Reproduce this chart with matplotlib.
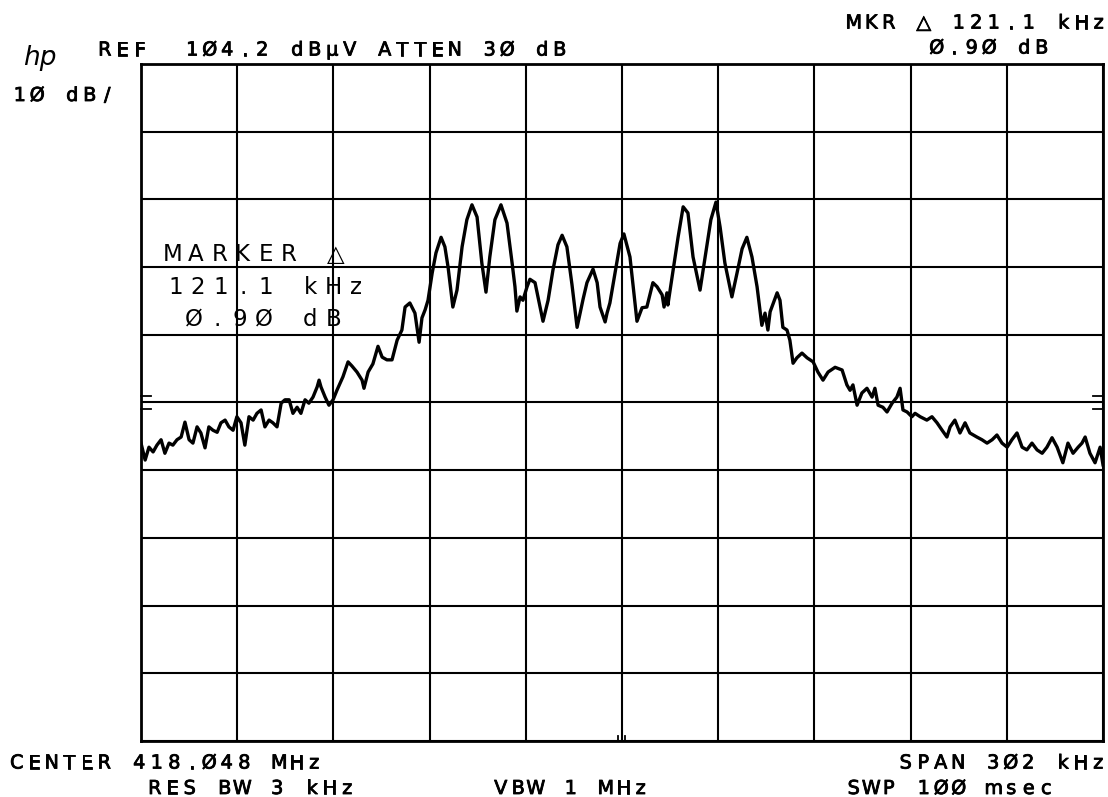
"""HP spectrum analyzer screen: two-tone / multi-carrier trace around 418.048 MHz"""
import numpy as np
import matplotlib
matplotlib.use("Agg")
import matplotlib.pyplot as plt
import matplotlib.patheffects as pe

W, H = 1108, 797

# analyzer settings
ref_level = 104.2      # dBuV, top graticule line
db_per_div = 10.0
span_khz = 302.0

# trace: offset from centre (kHz) and level (dBuV)
freq_khz = [
    -151.0, -149.7, -148.5, -147.2, -146.0, -144.7, -143.5, -142.2, -141.0, -139.7,
    -138.4, -137.2, -135.9, -134.7, -133.4, -132.2, -130.9, -129.7, -128.4, -127.1,
    -125.9, -124.6, -123.4, -122.1, -120.9, -119.6, -118.4, -117.1, -115.8, -114.6,
    -113.3, -112.1, -110.8, -109.6, -108.3, -107.0, -105.8, -104.5, -103.3, -102.0,
    -100.8, -99.5, -98.3, -97.0, -95.7, -95.1, -94.5, -93.2, -92.0, -90.7,
    -89.5, -87.6, -86.0, -84.8, -83.2, -81.6, -81.0, -79.7, -78.2, -76.6,
    -75.3, -73.8, -72.2, -70.6, -69.1, -68.1, -66.6, -65.0, -63.7, -62.8,
    -61.8, -60.9, -59.6, -58.4, -56.8, -55.6, -54.6, -53.1, -51.8, -50.2,
    -48.7, -47.1, -45.5, -44.0, -42.7, -41.5, -39.9, -38.0, -36.1, -34.5,
    -33.6, -33.0, -32.0, -31.1, -29.8, -28.9, -27.3, -24.8, -23.2, -21.7,
    -20.1, -18.8, -17.3, -15.7, -14.1, -12.2, -11.0, -9.1, -7.8, -6.9,
    -5.3, -4.7, -3.8, -2.2, -0.6, 0.6, 2.5, 4.7, 6.3, 7.8,
    9.7, 11.0, 12.6, 13.2, 14.1, 14.4, 16.0, 17.6, 19.2, 20.7,
    22.3, 24.5, 26.1, 27.9, 29.5, 30.8, 32.3, 34.5, 36.1, 37.7,
    39.2, 40.8, 42.4, 43.9, 44.9, 45.8, 46.5, 48.7, 49.6, 50.5,
    51.8, 52.7, 53.7, 54.9, 56.5, 58.1, 60.0, 61.5, 63.1, 64.7,
    66.9, 69.1, 70.6, 71.6, 72.5, 73.8, 75.3, 76.9, 78.5, 79.4,
    80.4, 81.9, 83.2, 84.8, 86.3, 87.3, 88.2, 89.5, 91.0, 92.0,
    93.6, 95.7, 97.3, 98.9, 100.5, 102.0, 103.0, 104.5, 106.1, 107.7,
    109.2, 111.4, 113.0, 114.6, 116.2, 117.7, 119.3, 120.9, 122.4, 124.0,
    125.6, 127.1, 128.7, 130.3, 131.9, 133.4, 135.0, 136.6, 138.4, 140.0,
    141.6, 143.2, 144.4, 145.4, 146.9, 148.5, 150.1, 151.0,
]
level_dbuv = [
    48.2, 45.7, 47.6, 46.9, 47.9, 48.7, 46.7, 48.2, 47.9, 48.7,
    49.1, 51.3, 48.7, 48.2, 50.6, 49.7, 47.5, 50.6, 50.1, 49.8,
    51.2, 51.6, 50.6, 50.1, 52.1, 51.2, 47.9, 52.1, 51.6, 52.6,
    53.1, 50.6, 51.6, 51.2, 50.6, 54.1, 54.6, 54.6, 52.6, 53.5,
    52.6, 54.6, 54.1, 55.0, 56.5, 57.5, 56.5, 55.0, 53.8, 54.6,
    56.0, 58.0, 60.2, 59.6, 58.7, 57.5, 56.3, 58.7, 59.9, 62.5,
    60.9, 60.5, 60.5, 63.4, 64.9, 68.3, 68.9, 67.4, 63.1, 66.7,
    67.9, 69.3, 73.3, 76.3, 78.6, 77.2, 74.2, 68.3, 70.8, 77.2,
    81.2, 83.4, 81.6, 74.8, 70.5, 75.7, 81.2, 83.4, 80.7, 74.8,
    71.3, 67.7, 69.8, 69.3, 71.3, 72.4, 71.9, 66.2, 69.3, 73.7,
    77.5, 78.9, 77.2, 71.6, 65.3, 69.5, 71.9, 73.9, 71.9, 68.3,
    66.1, 67.4, 68.9, 73.3, 77.7, 79.1, 75.7, 66.2, 68.2, 68.3,
    71.9, 71.3, 70.1, 68.3, 70.4, 68.6, 73.6, 78.6, 83.1, 82.2,
    75.7, 70.8, 75.7, 81.2, 83.8, 80.1, 74.8, 69.8, 73.3, 76.9,
    78.6, 75.7, 71.3, 65.6, 67.4, 64.9, 67.6, 70.4, 69.3, 65.3,
    64.9, 63.4, 60.0, 60.8, 61.5, 60.8, 60.2, 58.7, 57.5, 58.7,
    59.4, 59.0, 56.8, 56.0, 56.8, 53.8, 55.6, 56.3, 55.0, 56.3,
    53.8, 53.5, 52.8, 54.1, 55.0, 56.3, 53.1, 52.8, 52.1, 52.6,
    52.1, 51.6, 52.1, 51.2, 50.1, 49.1, 50.6, 51.6, 49.7, 51.2,
    49.7, 49.1, 48.7, 48.2, 48.7, 49.4, 48.2, 47.6, 48.7, 49.7,
    47.6, 47.2, 48.2, 47.2, 46.7, 47.6, 49.0, 47.6, 45.3, 48.2,
    46.7, 47.6, 48.2, 49.1, 46.7, 45.3, 47.6, 45.0,
]
side_marks_db = [55.2, 53.3]       # little "=" ticks on both borders
marker_ticks_khz = [-1.2, 0.8]     # marker flag at the bottom

fig = plt.figure(figsize=(W / 100, H / 100), dpi=100)
ax = fig.add_axes([141 / W, 1 - 741 / H, 962 / W, 677 / H])

half = span_khz / 2
bottom = ref_level - 10 * db_per_div
ax.set_xlim(-half, half)
ax.set_ylim(bottom, ref_level)
ax.set_xticks(np.linspace(-half, half, 11))
ax.set_yticks(np.linspace(bottom, ref_level, 11))
ax.tick_params(length=0, labelbottom=False, labelleft=False)
ax.grid(True, color="black", lw=1.5)
for s in ax.spines.values():
    s.set_linewidth(2.0)

ax.plot(freq_khz, level_dbuv, color="black", lw=2.4, zorder=3)

for lv in side_marks_db:
    ax.plot([-half, -half + 3], [lv, lv], color="black", lw=1.3, clip_on=False)
    ax.plot([half - 3, half], [lv, lv], color="black", lw=1.3, clip_on=False)
for f in marker_ticks_khz:
    ax.plot([f, f], [bottom, bottom + 0.8], color="black", lw=1.3)

# plotter pen is a bit heavier than the regular font
pen = [pe.withStroke(linewidth=0.6, foreground="black")]


def hp_text(x0, base, s, pitch=17.5, size=13.8, heavy=True):
    # the plotter font is fixed pitch, so place glyph by glyph
    for i, ch in enumerate(s):
        if ch != " ":
            fig.text((x0 + (i + 0.5) * pitch) / W, 1 - base / H, ch,
                     ha="center", va="baseline", fontsize=size,
                     family="DejaVu Sans", color="black",
                     path_effects=pen if heavy else None)


fig.text(40 / W, 1 - 65 / H, "hp", ha="center", va="baseline",
         fontsize=19, style="italic", family="DejaVu Sans")
hp_text(96, 55.5, "REF  1Ø4.2 dBμV ATTEN 3Ø dB")
hp_text(11, 101, "1Ø dB/")
hp_text(845, 28.5, "MKR △ 121.1 kHz")
hp_text(928, 53.5, "Ø.9Ø dB")
hp_text(8, 768.5, "CENTER 418.Ø48 MHz")
hp_text(146, 794, "RES BW 3 kHz")
hp_text(492, 794, "VBW 1 MHz")
hp_text(897, 768.5, "SPAN 3Ø2 kHz")
hp_text(845, 794, "SWP 1ØØ msec")

hp_text(161, 261, "MARKER △", pitch=23.3, size=16.5, heavy=False)
hp_text(164, 294, "121.1 kHz", pitch=22.6, size=16.5, heavy=False)
hp_text(182, 326, "Ø.9Ø dB", pitch=23.3, size=16.5, heavy=False)

fig.savefig("out.png", dpi=100)
